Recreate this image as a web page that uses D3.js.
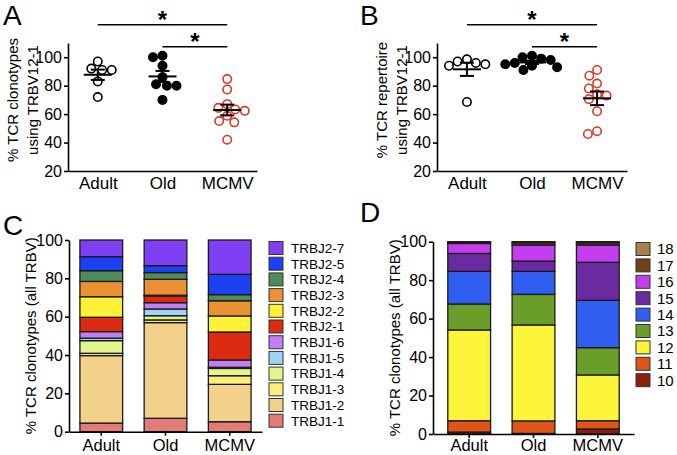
<!DOCTYPE html>
<html><head><meta charset="utf-8">
<script src="https://cdn.jsdelivr.net/npm/d3@7"></script>
<style>
body{margin:0;background:#fff;}
svg{display:block;font-family:"Liberation Sans",Arial,sans-serif;}
</style></head>
<body><svg id="c" width="677" height="455"></svg>
<script>
// ---------- data ----------
const groups = ["Adult", "Old", "MCMV"];
const clonoAdult = [97, 91, 91, 92, 83, 72];
const clonoOld = [101, 100, 94, 86, 81, 80, 80, 70];
const clonoMCMV = [84.6, 77.3, 67, 64.4, 62.3, 63.3, 58.8, 55.1, 54.2, 42];
const repAdult = [97, 95, 94, 96, 98.5, 68.5];
const repOld = [101, 100, 99, 98, 96, 95, 94, 93, 91];
const repMCMV = [91, 87, 81.5, 78, 74, 70.5, 73, 62, 46, 48];
const ticksAB = [20, 40, 60, 80, 100];
const ticksCD = [0, 20, 40, 60, 80, 100];

const jGenes = ["TRBJ1-1","TRBJ1-2","TRBJ1-3","TRBJ1-4","TRBJ1-5","TRBJ1-6","TRBJ2-1","TRBJ2-2","TRBJ2-3","TRBJ2-4","TRBJ2-5","TRBJ2-7"];
const jAdult = [4.5, 35.2, 1.2, 6.6, 1.3, 3.4, 7.5, 10.7, 8.0, 5.6, 7.3, 8.7];
const jOld   = [7.0, 49.9, 1.4, 2.2, 3.5, 3.3, 3.5, 0.4, 8.3, 3.5, 3.6, 13.4];
const jMCMV  = [5.2, 19.5, 4.5, 3.8, 0.6, 3.8, 14.6, 8.4, 7.9, 3.2, 10.6, 17.9];
const jColors = ["#e27c79","#f2d18a","#fbef7c","#e4f58c","#a3d2f7","#c37ff2","#dc2b10","#fdf236","#ea9132","#4f8a5a","#1e40f3","#7f3ff3"];

const vLens = ["10","11","12","13","14","15","16","17","18"];
const vAdult = [1.0, 5.9, 47.2, 13.5, 17.0, 9.3, 5.2, 0.5, 0.4];
const vOld   = [0.3, 6.5, 49.9, 15.9, 12.0, 5.3, 8.4, 1.2, 0.5];
const vMCMV  = [2.6, 4.3, 23.8, 14.2, 24.6, 19.8, 9.0, 1.2, 0.5];
const vColors = ["#8e1e0a","#e0541a","#fdf53a","#6a9e2a","#2f5ef0","#6a2aa0","#c43ef0","#6e4318","#a8804f"];

// ---------- helpers ----------
const svg = d3.select("#c");
const FONT = "Liberation Sans, Arial, sans-serif";

function swarm(values, y, cx, D) {
  const placed = [];
  const order = values.map((v, i) => ({v, i, y: y(v)})).sort((a, b) => a.y - b.y);
  for (const p of order) {
    const forb = [];
    for (const q of placed) {
      const dy = p.y - q.y;
      if (Math.abs(dy) < D) { const dx = Math.sqrt(D * D - dy * dy); forb.push([q.x - dx, q.x + dx]); }
    }
    const cands = [0];
    forb.forEach(f => cands.push(f[0], f[1]));
    cands.sort((a, b) => Math.abs(a) - Math.abs(b) || a - b);
    p.x = cands.find(c => forb.every(f => c <= f[0] + 1e-6 || c >= f[1] - 1e-6));
    placed.push(p);
  }
  return order.map(p => ({v: p.v, x: cx + p.x, y: p.y}));
}

function styleAxis(g, fs) {
  g.selectAll("path,line").attr("stroke", "#000").attr("stroke-width", 1.6);
  g.selectAll("text").attr("fill", "#000").style("font-size", fs + "px").style("font-family", FONT);
}

function dotPanel(opt) {
  const x = d3.scalePoint().domain(groups).range(opt.xr).padding(0.46);
  const y = d3.scaleLinear().domain([20, 110]).range([171, 43]);
  const g = svg.append("g");
  const ya = g.append("g").attr("transform", `translate(${opt.xr[0]},0)`)
    .call(d3.axisLeft(y).tickValues(ticksAB).tickSize(4).tickSizeOuter(0).tickPadding(2));
  styleAxis(ya, 16);
  const xa = g.append("g").attr("transform", `translate(0,171)`)
    .call(d3.axisBottom(x).tickSize(0).tickSizeOuter(0).tickPadding(5));
  styleAxis(xa, 17);
  xa.selectAll("text").attr("dy", "0.75em");

  const styles = {
    Adult: {fill: "#fff", stroke: "#000"},
    Old: {fill: "#000", stroke: "#000"},
    MCMV: {fill: "#fff", stroke: "#d83a2b"}
  };
  opt.data.forEach((vals, gi) => {
    const grp = groups[gi];
    const pts = swarm(vals, y, x(grp), 9.6);
    g.selectAll(null).data(pts).enter().append("circle")
      .attr("cx", d => d.x).attr("cy", d => d.y).attr("r", 4.2)
      .attr("fill", styles[grp].fill).attr("stroke", styles[grp].stroke).attr("stroke-width", 1.6);
    const m = d3.mean(vals), sem = d3.deviation(vals) / Math.sqrt(vals.length);
    const cx = x(grp);
    const lg = g.append("g").attr("stroke", "#000").attr("stroke-width", 2);
    lg.append("line").attr("x1", cx - 14).attr("x2", cx + 14).attr("y1", y(m)).attr("y2", y(m));
    lg.append("line").attr("x1", cx).attr("x2", cx).attr("y1", y(m + sem)).attr("y2", y(m - sem));
    lg.append("line").attr("x1", cx - 7).attr("x2", cx + 7).attr("y1", y(m + sem)).attr("y2", y(m + sem));
    lg.append("line").attr("x1", cx - 7).attr("x2", cx + 7).attr("y1", y(m - sem)).attr("y2", y(m - sem));
  });
  // significance
  const sig = [["Adult", "MCMV", 24.7], ["Old", "MCMV", 46.7]];
  sig.forEach(s => {
    const x1 = x(s[0]), x2 = x(s[1]);
    g.append("line").attr("x1", x1).attr("x2", x2).attr("y1", s[2]).attr("y2", s[2])
      .attr("stroke", "#000").attr("stroke-width", 1.6);
    g.append("text").attr("x", (x1 + x2) / 2).attr("y", s[2] + 3).attr("text-anchor", "middle")
      .style("font-size", "24px").style("font-weight", "bold").style("font-family", FONT).text("*");
  });
  // y label
  const yl = g.append("text").attr("transform", `translate(${opt.labX},${opt.labY}) rotate(-90)`)
    .attr("text-anchor", "middle").style("font-size", "15px").style("font-family", FONT);
  yl.append("tspan").attr("x", 0).attr("dy", 0).text(opt.label1);
  yl.append("tspan").attr("x", 0).attr("dy", "1.35em").text(opt.label2);
  // letter
  svg.append("text").attr("x", opt.letX).attr("y", 25).style("font-size", "28px").style("font-family", FONT).text(opt.letter);
}

dotPanel({xr: [68, 257], data: [clonoAdult, clonoOld, clonoMCMV], label1: "% TCR clonotypes", label2: "using TRBV12-1",
  labX: 18, labY: 100, letter: "A", letX: 3});
dotPanel({xr: [437, 627], data: [repAdult, repOld, repMCMV], label1: "% TCR repertoire", label2: "using TRBV12-1",
  labX: 387, labY: 100, letter: "B", letX: 360});

function barPanel(opt) {
  const x = d3.scaleBand().domain(groups).range(opt.xr).paddingInner(0.335).paddingOuter(opt.po);
  const y = d3.scaleLinear().domain([0, 100]).range(opt.yr);
  const g = svg.append("g");
  const keys = opt.keys;
  const rows = groups.map((grp, gi) => {
    const o = {group: grp};
    keys.forEach((k, ki) => o[k] = opt.data[gi][ki]);
    return o;
  });
  const series = d3.stack().keys(keys)(rows);
  series.forEach((s, si) => {
    g.selectAll(null).data(s).enter().append("rect")
      .attr("x", d => x(d.data.group)).attr("width", x.bandwidth())
      .attr("y", d => y(d[1])).attr("height", d => y(d[0]) - y(d[1]))
      .attr("fill", opt.colors[si]).attr("stroke", "#1a1a1a").attr("stroke-width", 1.3);
  });
  const ya = g.append("g").attr("transform", `translate(${opt.xr[0]},0)`)
    .call(d3.axisLeft(y).tickValues(ticksCD).tickSize(4).tickSizeOuter(0).tickPadding(2));
  styleAxis(ya, 16);
  const xa = g.append("g").attr("transform", `translate(0,${opt.yr[0]})`)
    .call(d3.axisBottom(x).tickSize(4).tickSizeOuter(0).tickPadding(opt.xpad));
  styleAxis(xa, 16.5);
  xa.selectAll("text").attr("dy", "0.72em");
  g.append("text").attr("transform", `translate(${opt.labX},${(opt.yr[0] + opt.yr[1]) / 2}) rotate(-90)`)
    .attr("text-anchor", "middle").style("font-size", "15px").style("font-family", FONT)
    .text("% TCR clonotypes (all TRBV)");
  // legend (top item = last key)
  const leg = keys.slice().reverse();
  const cols = opt.colors.slice().reverse();
  leg.forEach((k, i) => {
    const cy = opt.legY + i * opt.legStep;
    g.append("rect").attr("x", opt.legX).attr("y", cy - 6.5).attr("width", 14).attr("height", 13)
      .attr("fill", cols[i]).attr("stroke", "#333").attr("stroke-width", 1);
    g.append("text").attr("x", opt.legX + opt.legTx).attr("y", cy).attr("dy", "0.36em")
      .style("font-size", opt.legFs + "px").style("font-family", FONT).text(k);
  });
  svg.append("text").attr("x", opt.letX).attr("y", opt.letY).style("font-size", "28px").style("font-family", FONT).text(opt.letter);
}

barPanel({xr: [69, 262], po: 0.17, yr: [431.7, 240], keys: jGenes, data: [jAdult, jOld, jMCMV], colors: jColors, xpad: 3,
  labX: 36, legX: 269, legY: 248, legStep: 15.7, legTx: 22, legFs: 13.5, letter: "C", letX: 3, letY: 235});
barPanel({xr: [433, 634], po: 0.23, yr: [434, 241.7], keys: vLens, data: [vAdult, vOld, vMCMV], colors: vColors, xpad: 1,
  labX: 400, legX: 636, legY: 249, legStep: 16.4, legTx: 21, legFs: 15, letter: "D", letX: 360, letY: 222});
</script></body></html>
